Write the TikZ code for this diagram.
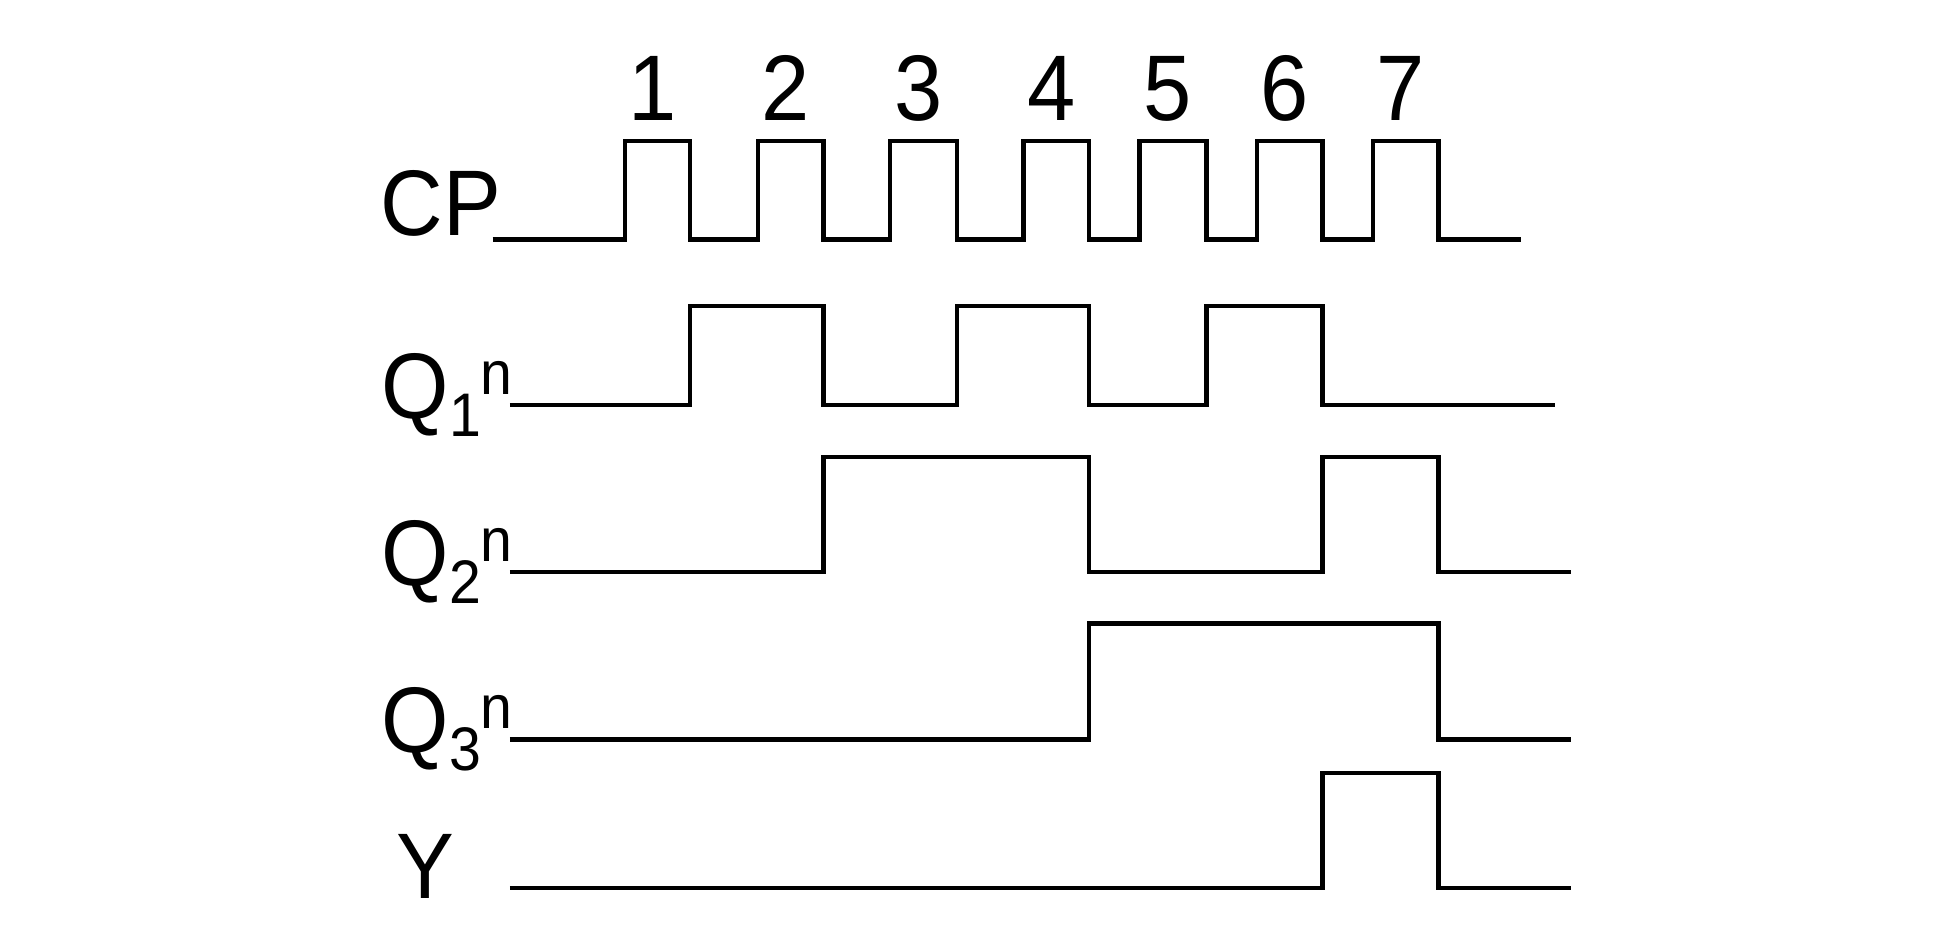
\documentclass[tikz,border=0pt]{standalone}
\usepackage{fontspec}
\setmainfont[FakeStretch=0.93]{Liberation Sans}
\usepackage{tikz}
\usetikzlibrary{positioning}

\newcommand{\bigfont}{\fontsize{26.5}{31}\selectfont}
\newcommand{\smallfont}{\fontsize{17.5}{20}\selectfont}
% Q with a lowered index and a raised n after it
\newcommand{\qsig}[1]{Q\raisebox{-5.2pt}{\smallfont #1}\raisebox{6.8pt}{\smallfont n}}

\tikzset{
  wave/.style={black,line width=1.25pt},
  siglab/.style={font=\bigfont,inner sep=0pt,anchor=base west},
  numlab/.style={font=\bigfont,inner sep=0pt,anchor=base},
}

\begin{document}
\begin{tikzpicture}[x=0.01cm,y=-0.01cm]
  \useasboundingbox (0,0) rectangle (1936,944);
  % signal names
  \node[siglab] (cp) at (380,235) {CP};
  \node[siglab] (q1) at (381,418) {\qsig{1}};
  \node[siglab] (q2) at (381,585) {\qsig{2}};
  \node[siglab] (q3) at (381,752) {\qsig{3}};
  \node[siglab] (y) at (396,898) {Y};
  % clock: rise/fall/pulse number
  \draw[wave] (492.6,239.5)
    \foreach \r/\f in {624.8/690.2,758.1/823.5,890.2/956.9,1023.6/1089,
                       1139.6/1206.3,1256.9/1322.4,1373/1438.4} {
      -- (\r,239.5) -- (\r,140.8) -- (\f,140.8) -- (\f,239.5)
    } -- (1521.1,239.5);
  \foreach \r/\f/\k in {624.8/690.2/1,758.1/823.5/2,890.2/956.9/3,1023.6/1089/4,
                        1139.6/1206.3/5,1256.9/1322.4/6,1373/1438.4/7}
    \node[numlab] (n\k) at ({(\r+\f)/2-5},120) {\k};
  % Q1
  \draw[wave] (509.9,405) -- (690.2,405) -- (690.2,306.2) -- (823.5,306.2) -- (823.5,405)
    -- (956.9,405) -- (956.9,306.2) -- (1089,306.2) -- (1089,405) -- (1206.3,405)
    -- (1206.3,306.2) -- (1322.4,306.2) -- (1322.4,405) -- (1554.5,405);
  % Q2
  \draw[wave] (509.9,571.7) -- (823.5,571.7) -- (823.5,456.8) -- (1089,456.8) -- (1089,571.7)
    -- (1322.4,571.7) -- (1322.4,456.8) -- (1438.4,456.8) -- (1438.4,571.7) -- (1570.5,571.7);
  % Q3
  \draw[wave] (509.9,739.6) -- (1089,739.6) -- (1089,623.5) -- (1438.4,623.5) -- (1438.4,739.6)
    -- (1570.5,739.6);
  % Y
  \draw[wave] (509.9,887.7) -- (1322.4,887.7) -- (1322.4,773) -- (1438.4,773) -- (1438.4,887.7)
    -- (1570.5,887.7);
\end{tikzpicture}
\end{document}
